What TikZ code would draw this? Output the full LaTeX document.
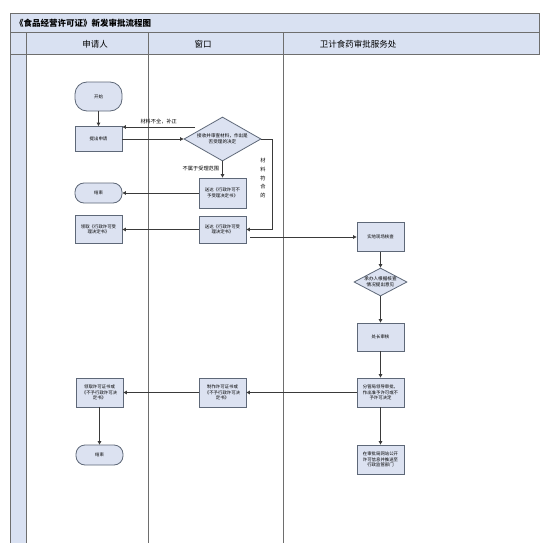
\documentclass[tikz,border=0pt]{standalone}
\usepackage{fontspec}
\newfontfamily\cjk{Noto Sans CJK SC}
\usetikzlibrary{arrows.meta,shapes.geometric,calc}
\definecolor{boxfill}{HTML}{DCE2F1}
\definecolor{boxline}{HTML}{5E6878}
\definecolor{hdrfill}{HTML}{D9E1F2}
\definecolor{frame}{HTML}{6E6E6E}
\definecolor{linecol}{HTML}{3A3A3A}
\begin{document}
\begin{tikzpicture}[x=1pt,y=-1pt,
  box/.style={draw=boxline, fill=boxfill, line width=0.8pt, minimum width=47pt,
    align=center, inner sep=1pt, font=\cjk\fontsize{4.4}{5.6}\selectfont},
  term/.style={box, rounded corners=9pt},
  dia/.style={diamond, draw=boxline, fill=boxfill, line width=0.8pt, inner sep=0pt,
    align=center, font=\cjk\fontsize{4.6}{6}\selectfont},
  arr/.style={draw=linecol, line width=0.8pt, -{Triangle[length=3.5pt,width=3.5pt]}},
  lbl/.style={font=\cjk\fontsize{5.2}{6}\selectfont, inner sep=0pt},
  hdr/.style={font=\cjk\fontsize{8.5}{10}\selectfont, inner sep=0pt},
  lane/.style={draw=frame, line width=1pt}
]
\useasboundingbox (0,0) rectangle (554,543);
\fill[white] (0,0) rectangle (554,543);

% pool frame
\draw[lane, fill=hdrfill] (10.7,13.3) rectangle (539,33);
\draw[lane, fill=hdrfill] (10.7,33) rectangle (539,55);
\draw[lane, fill=hdrfill] (10.7,55) rectangle (26.7,543);
\draw[lane] (26.7,33) -- (26.7,543);
\draw[lane] (148.3,33) -- (148.3,543);
\draw[lane] (283,33) -- (283,543);

\node[hdr, anchor=west, font=\cjk\bfseries\fontsize{8.5}{10}\selectfont] (title) at (15,23.3) {《食品经营许可证》新发审批流程图};
\node[hdr] (h1) at (95,44) {申请人};
\node[hdr] (h2) at (203,44) {窗口};
\node[hdr] (h3) at (358,44) {卫计食药审批服务处};

% nodes
\node[term, minimum height=29pt, rounded corners=12pt] (start) at (98.5,96.5) {开始};
\node[box, minimum height=25pt] (apply) at (98.5,139) {提出申请};
\node[dia, minimum width=77pt, minimum height=44pt, aspect=1.75] (dec) at (222.5,139) {接收并审查材料，作出是\\否受理的决定};
\node[box, minimum height=30pt] (rej) at (222.5,193) {送达《行政许可不\\予受理决定书》};
\node[term, minimum height=20pt] (end1) at (98.5,193) {结束};
\node[box, minimum height=27pt] (shou) at (222.5,229.5) {送达《行政许可受\\理决定书》};
\node[box, minimum height=28pt] (recv1) at (98.5,229.5) {领取《行政许可受\\理决定书》};
\node[box, minimum height=29pt] (shi) at (380.5,237) {实地现场核查};
\node[dia, minimum width=53pt, minimum height=28pt, aspect=1.9] (dia2) at (380.5,282) {承办人根据核查\\情况提出意见};
\node[box, minimum height=28pt] (chu) at (380.5,337) {处长审核};
\node[box, minimum height=29pt] (fen) at (380.5,392.5) {分管局领导审批，\\作出准予许可或不\\予许可决定};
\node[box, minimum height=29pt] (zhi) at (222.5,392.5) {制作许可证书或\\《不予行政许可决\\定书》};
\node[box, minimum height=29pt] (recv2) at (99.5,392.5) {领取许可证书或\\《不予行政许可决\\定书》};
\node[term, minimum height=20pt] (end2) at (99.5,455) {结束};
\node[box, minimum height=29pt] (pub) at (380.5,459.5) {在审批局网站公开\\许可信息并推送至\\行政监管部门};

% free ends
\coordinate (c1) at (195,127);
\coordinate (c2) at (250,237);

% connectors
\draw[arr] (start) -- (apply);
\draw[arr] (apply) -- (dec);
\draw[arr] (c1) -- (c1 -| apply.east) node[lbl, midway, above=2.5pt] (l1) {材料不全，补正};
\draw[arr] (dec) -- (rej) node[lbl, pos=0.45, left=3pt] (l2) {不属于受理范围};
\draw[arr] (dec.east) -- ++(11,0) |- (shou.east);
\node[lbl, align=center, font=\cjk\fontsize{5.2}{8.6}\selectfont] (l3) at (263,178) {材\\料\\符\\合\\的};
\draw[arr] (rej) -- (end1);
\draw[arr] (shou) -- (recv1);
\draw[arr] (c2) -- (c2 -| shi.west);
\draw[arr] (shi) -- (dia2);
\draw[arr] (dia2) -- (chu);
\draw[arr] (chu) -- (fen);
\draw[arr] (fen) -- (zhi);
\draw[arr] (zhi) -- (recv2);
\draw[arr] (recv2) -- (end2);
\draw[arr] (fen) -- (pub);
\end{tikzpicture}
\end{document}
